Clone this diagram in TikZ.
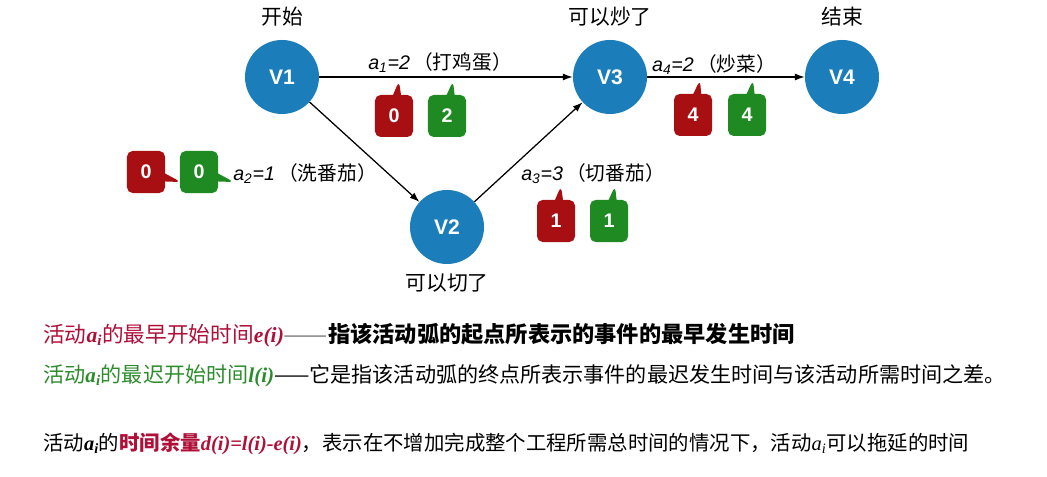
\documentclass[tikz,border=0pt]{standalone}
\usepackage{fontspec}
\setmainfont{Noto Sans CJK SC}
\newfontfamily\lsans{Liberation Sans}
\newfontfamily\lserif{Liberation Serif}
\usetikzlibrary{arrows.meta,shapes.callouts}
\definecolor{evblue}{HTML}{1B7DB9}
\definecolor{ered}{HTML}{A80F12}
\definecolor{lgreen}{HTML}{1F8A22}
\definecolor{tred}{HTML}{B01038}
\definecolor{tgreen}{HTML}{2C8C2C}
\newcommand{\setfs}[1]{\fontsize{#1}{#1}\selectfont}
\newcommand{\actv}[1]{{\lserif\bfseries\itshape a\textsubscript{#1}}}
\begin{document}
\begin{tikzpicture}[x=0.025cm,y=-0.025cm,
  event/.style={circle,fill=evblue,minimum size=1.85cm,inner sep=0pt,text=white,font=\lsans\bfseries\setfs{15}},
  evlabel/.style={font=\setfs{14.8}},
  arclabel/.style={font=\setfs{14}},
  tbox/.style={rectangle callout,rounded corners=4pt,callout pointer width=0.2cm,minimum width=0.95cm,minimum height=1.05cm,inner sep=0pt,text=white,font=\lsans\bfseries\setfs{14}},
  early/.style={tbox,fill=ered},
  late/.style={tbox,fill=lgreen},
  arc/.style={-{Latex[length=7pt,width=5pt]},line width=0.9pt},
  textline/.style={anchor=west,inner sep=0pt,font=\setfs{15}}]
\useasboundingbox (0,0) rectangle (1047,477);
% events
\node[event] (v1) at (282,77) {V1};
\node[event] (v2) at (447,227) {V2};
\node[event] (v3) at (610,77) {V3};
\node[event] (v4) at (842,77) {V4};
\node[evlabel] (s1) at (282,17) {开始};
\node[evlabel] (s3) at (610,17) {可以炒了};
\node[evlabel] (s4) at (842,17) {结束};
\node[evlabel] (s2) at (447,283) {可以切了};
% activities
\draw[arc] (v1) -- (v3);
\draw[arc] (v1) -- (v2);
\draw[arc] (v2) -- (v3);
\draw[arc] (v3) -- (v4);
\node[arclabel] (la1) at (440,63) {{\lsans\itshape a\textsubscript{1}=2}\,（打鸡蛋）};
\node[arclabel] (la2) at (305,174) {{\lsans\itshape a\textsubscript{2}=1}\,（洗番茄）};
\node[arclabel] (la3) at (593,174) {{\lsans\itshape a\textsubscript{3}=3}\,（切番茄）};
\node[arclabel] (la4) at (714,65) {{\lsans\itshape a\textsubscript{4}=2}\,（炒菜）};
% e(i) and l(i)
\node[early,callout relative pointer={(0.05cm,0.35cm)}] (e1) at (394,116) {0};
\node[late,callout relative pointer={(0.06cm,0.35cm)}] (l1) at (447,116) {2};
\node[early,callout relative pointer={(0.4cm,-0.115cm)}] (e2) at (146,172) {0};
\node[late,callout relative pointer={(0.4cm,-0.115cm)}] (l2) at (199,172) {0};
\node[early,callout relative pointer={(0.05cm,0.35cm)}] (e3) at (556,221) {1};
\node[late,callout relative pointer={(0.06cm,0.35cm)}] (l3) at (609,221) {1};
\node[early,callout relative pointer={(0.07cm,0.35cm)}] (e4) at (693,115) {4};
\node[late,callout relative pointer={(0.06cm,0.35cm)}] (l4) at (747,115) {4};
% definitions
\node[textline] (t1) at (43,335) {{\color{tred}\setfs{15.4}活动\actv{i}的最早开始时间{\lserif\bfseries\itshape e(i)}}{\color{black!55}\scalebox{1.25}[1]{——}}{\bfseries\setfs{15.8}指该活动弧的起点所表示的事件的最早发生时间}};
\node[textline] (t2) at (43,376) {{\color{tgreen}活动\actv{i}的最迟开始时间{\lserif\bfseries\itshape l(i)}}——它是指该活动弧的终点所表示事件的最迟发生时间与该活动所需时间之差。};
\node[textline,font=\setfs{14.5}] (t3) at (43,444) {活动\actv{i}的{\color{tred}\bfseries 时间余量{\lserif\itshape d(i)=l(i)-e(i)}}，表示在不增加完成整个工程所需总时间的情况下，活动{\lserif\itshape a\textsubscript{i}}可以拖延的时间};
\end{tikzpicture}
\end{document}
